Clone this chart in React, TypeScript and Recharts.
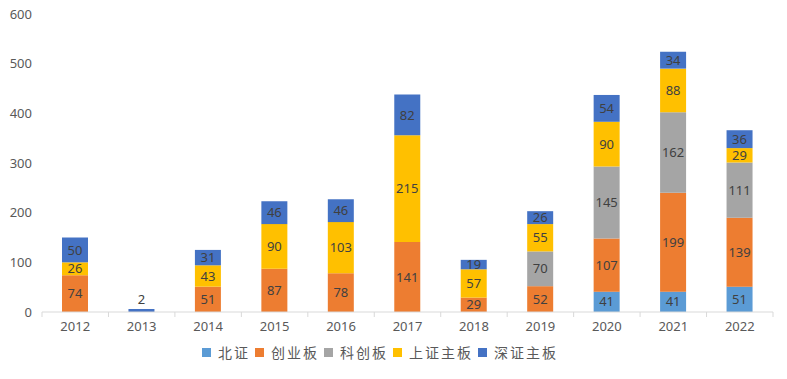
import React from 'react';
import { BarChart, Bar, XAxis, YAxis, Legend, LabelList } from 'recharts';

const years = ['2012', '2013', '2014', '2015', '2016', '2017', '2018', '2019', '2020', '2021', '2022'];
const beizheng = [null, null, null, null, null, null, null, null, 41, 41, 51];
const chuangye = [74, null, 51, 87, 78, 141, 29, 52, 107, 199, 139];
const kechuang = [null, null, null, null, null, null, null, 70, 145, 162, 111];
const shangzheng = [26, null, 43, 90, 103, 215, 57, 55, 90, 88, 29];
const shenzheng = [50, 2, 31, 46, 46, 82, 19, 26, 54, 34, 36];
const yTicks = [0, 100, 200, 300, 400, 500, 600];

const seriesNames = ['北证', '创业板', '科创板', '上证主板', '深证主板'];
const seriesKeys = ['bz', 'cy', 'kc', 'sz', 'szz'];
const seriesColors = ['#5B9BD5', '#ED7D31', '#A5A5A5', '#FFC000', '#4472C4'];
const seriesValues = [beizheng, chuangye, kechuang, shangzheng, shenzheng];

const data = years.map((year, i) => {
  const row: Record<string, any> = { year };
  seriesKeys.forEach((k, s) => {
    row[k] = seriesValues[s][i];
  });
  return row;
});

const FONT = '"Noto Sans", "Noto Sans CJK SC", sans-serif';

const SegLabel = (props: any) => {
  const { x, y, width, height, value } = props;
  if (value === null || value === undefined) return null;
  const cx = x + width / 2;
  if (Math.abs(height) < 4) {
    return (
      <text x={cx} y={y - 5} textAnchor="middle" fill="#404040" fontSize={13} fontFamily={FONT}>
        {value}
      </text>
    );
  }
  return (
    <text x={cx} y={y + height / 2} dy="0.36em" textAnchor="middle" fill="#404040" fontSize={13} fontFamily={FONT}>
      {value}
    </text>
  );
};

const XTick = (props: any) => {
  const { x, y, payload, index, visibleTicksCount } = props;
  const off = payload && payload.offset ? payload.offset : 0;
  const axisY = y - 13;
  return (
    <g>
      <line x1={x - off} x2={x - off} y1={axisY} y2={axisY + 5} stroke="#D9D9D9" />
      {index === visibleTicksCount - 1 && (
        <line x1={x + off} x2={x + off} y1={axisY} y2={axisY + 5} stroke="#D9D9D9" />
      )}
      <text x={x} y={y} dy="0.45em" textAnchor="middle" fill="#595959" fontSize={13} fontFamily={FONT}>
        {payload.value}
      </text>
    </g>
  );
};

const LegendContent = () => (
  <div
    style={{
      display: 'flex',
      justifyContent: 'center',
      alignItems: 'center',
      fontFamily: FONT,
      fontSize: 14,
      color: '#595959',
      height: 20,
      letterSpacing: 2,
      paddingRight: 8,
    }}
  >
    {seriesNames.map((n, i) => (
      <div key={n} style={{ display: 'flex', alignItems: 'center', marginRight: 5 }}>
        <span style={{ display: 'inline-block', width: 9, height: 9, background: seriesColors[i], marginRight: 7 }} />
        <span>{n}</span>
      </div>
    ))}
  </div>
);

export default function App() {
  return (
    <div style={{ position: 'absolute', left: 0, top: 0, background: '#fff' }}>
      <BarChart width={787} height={379} data={data} margin={{ top: 14, right: 14, bottom: 17, left: 0 }}>
        <XAxis
          dataKey="year"
          axisLine={{ stroke: '#D9D9D9' }}
          tickLine={false}
          tickSize={5}
          tickMargin={8}
          tick={<XTick />}
          interval={0}
          height={30}
        />
        <YAxis
          domain={[0, 600]}
          ticks={yTicks}
          axisLine={false}
          tickLine={false}
          tickSize={10}
          tickMargin={0}
          width={42}
          tick={{ fill: '#595959', fontSize: 13, fontFamily: FONT }}
        />
        <Legend verticalAlign="bottom" height={20} content={<LegendContent />} />
        {seriesKeys.map((k, i) => (
          <Bar
            key={k}
            dataKey={k}
            name={seriesNames[i]}
            stackId="a"
            fill={seriesColors[i]}
            barSize={26}
            minPointSize={k === 'szz' ? 3 : 0}
            isAnimationActive={false}
          >
            <LabelList dataKey={k} content={<SegLabel />} />
          </Bar>
        ))}
      </BarChart>
    </div>
  );
}
